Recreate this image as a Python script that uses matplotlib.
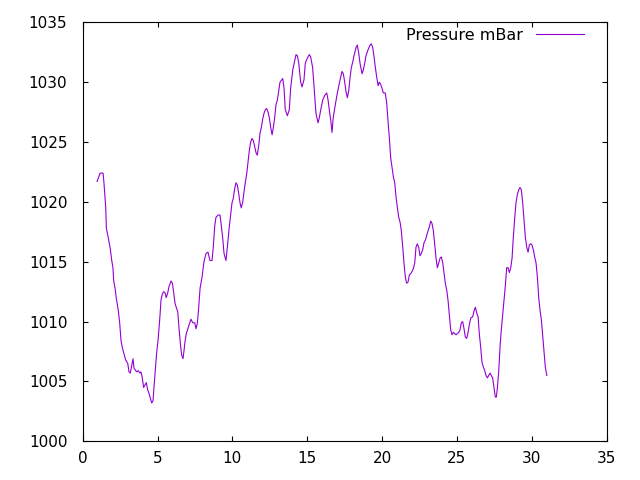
import matplotlib
matplotlib.use("Agg")
import matplotlib.pyplot as plt

day = [0.96, 1.16, 1.36, 1.42, 1.54, 1.58, 1.71, 1.84, 1.94, 2.02, 2.07, 2.16, 2.24, 2.38, 2.47, 2.56, 2.65, 2.74, 2.87, 3.01,
       3.09, 3.18, 3.27, 3.36, 3.43, 3.54, 3.63, 3.71, 3.83, 3.89, 3.98, 4.07, 4.16, 4.25, 4.34, 4.43, 4.52, 4.61, 4.70, 4.76,
       4.85, 4.94, 5.03, 5.14, 5.23, 5.32, 5.41, 5.50, 5.58, 5.68, 5.76, 5.90, 5.99, 6.08, 6.17, 6.25, 6.35, 6.43, 6.52, 6.61,
       6.70, 6.77, 6.83, 6.92, 7.05, 7.15, 7.23, 7.35, 7.48, 7.57, 7.66, 7.75, 7.84, 7.97, 8.10, 8.24, 8.37, 8.50, 8.64, 8.72,
       8.82, 8.90, 9.04, 9.17, 9.26, 9.35, 9.44, 9.57, 9.66, 9.79, 9.89, 9.97, 10.06, 10.15, 10.24, 10.33, 10.42, 10.51, 10.59, 10.69,
       10.77, 10.86, 10.96, 11.04, 11.13, 11.22, 11.31, 11.40, 11.49, 11.58, 11.66, 11.76, 11.84, 11.93, 12.02, 12.11, 12.20, 12.29, 12.38, 12.47,
       12.56, 12.65, 12.73, 12.83, 12.91, 13.00, 13.18, 13.36, 13.45, 13.53, 13.67, 13.80, 13.89, 14.03, 14.16, 14.25, 14.34, 14.43, 14.56, 14.65,
       14.78, 14.87, 15.00, 15.14, 15.23, 15.36, 15.50, 15.58, 15.72, 15.80, 15.90, 16.03, 16.17, 16.30, 16.39, 16.47, 16.57, 16.65, 16.74, 16.87,
       17.01, 17.14, 17.23, 17.32, 17.41, 17.50, 17.59, 17.68, 17.77, 17.86, 17.94, 18.04, 18.12, 18.26, 18.34, 18.44, 18.52, 18.66, 18.74, 18.84,
       18.92, 19.06, 19.19, 19.28, 19.37, 19.46, 19.55, 19.64, 19.73, 19.81, 19.91, 19.99, 20.08, 20.21, 20.31, 20.39, 20.48, 20.57, 20.66, 20.75,
       20.84, 20.93, 21.02, 21.11, 21.20, 21.28, 21.38, 21.46, 21.55, 21.64, 21.73, 21.82, 21.91, 22.00, 22.08, 22.18, 22.26, 22.35, 22.44, 22.53,
       22.62, 22.71, 22.80, 22.89, 22.98, 23.07, 23.15, 23.25, 23.33, 23.42, 23.51, 23.60, 23.69, 23.78, 23.87, 23.96, 24.05, 24.14, 24.22, 24.32,
       24.40, 24.49, 24.58, 24.67, 24.76, 24.94, 25.12, 25.20, 25.29, 25.38, 25.47, 25.56, 25.65, 25.74, 25.82, 25.92, 26.05, 26.14, 26.23, 26.32,
       26.41, 26.49, 26.58, 26.67, 26.76, 26.85, 26.94, 27.03, 27.12, 27.21, 27.29, 27.38, 27.47, 27.56, 27.63, 27.70, 27.79, 27.88, 27.96, 28.06,
       28.14, 28.23, 28.32, 28.41, 28.50, 28.59, 28.68, 28.76, 28.86, 28.94, 29.03, 29.12, 29.21, 29.30, 29.39, 29.48, 29.57, 29.66, 29.75, 29.83,
       29.93, 30.01, 30.10, 30.19, 30.28, 30.37, 30.46, 30.55, 30.64, 30.73, 30.82, 30.90, 31.00]

pressure = [1021.7, 1022.4, 1022.4, 1021.6, 1019.5, 1017.8, 1017.0, 1016.1, 1015.1, 1014.5, 1013.4, 1012.8, 1012.0, 1010.9, 1009.9, 1008.4, 1007.8, 1007.4, 1006.8, 1006.5,
            1005.8, 1005.7, 1006.3, 1006.9, 1006.1, 1005.9, 1005.8, 1005.9, 1005.7, 1005.8, 1005.3, 1004.5, 1004.7, 1004.9, 1004.3, 1004.0, 1003.6, 1003.2, 1003.4, 1004.5,
            1005.9, 1007.4, 1008.4, 1010.1, 1011.8, 1012.3, 1012.5, 1012.4, 1012.0, 1012.4, 1012.9, 1013.4, 1013.2, 1012.4, 1011.5, 1011.2, 1010.8, 1009.5, 1008.2, 1007.2,
            1006.9, 1007.6, 1008.3, 1009.0, 1009.5, 1009.9, 1010.2, 1009.9, 1009.9, 1009.4, 1009.9, 1011.2, 1012.8, 1013.7, 1015.0, 1015.7, 1015.8, 1015.1, 1015.1, 1016.2,
            1018.0, 1018.7, 1018.9, 1018.9, 1018.0, 1017.0, 1015.7, 1015.1, 1016.2, 1017.9, 1019.0, 1019.9, 1020.3, 1021.1, 1021.6, 1021.4, 1020.7, 1019.9, 1019.5, 1020.0,
            1020.8, 1021.6, 1022.4, 1023.3, 1024.3, 1025.0, 1025.3, 1025.1, 1024.6, 1024.1, 1023.9, 1024.7, 1025.7, 1026.2, 1026.9, 1027.4, 1027.7, 1027.8, 1027.5, 1027.0,
            1026.2, 1025.6, 1026.2, 1027.1, 1028.1, 1028.5, 1030.0, 1030.3, 1029.5, 1027.7, 1027.2, 1027.7, 1029.5, 1031.0, 1031.8, 1032.3, 1032.2, 1031.6, 1030.0, 1029.6,
            1030.2, 1031.6, 1032.0, 1032.3, 1032.1, 1031.2, 1028.7, 1027.4, 1026.6, 1027.0, 1027.7, 1028.5, 1028.9, 1029.1, 1028.5, 1027.7, 1026.8, 1025.8, 1027.1, 1028.1,
            1029.1, 1029.9, 1030.4, 1030.9, 1030.7, 1030.0, 1029.2, 1028.7, 1029.3, 1030.4, 1031.2, 1031.7, 1032.2, 1032.9, 1033.1, 1032.4, 1031.6, 1030.7, 1031.0, 1031.6,
            1032.2, 1032.7, 1033.1, 1033.2, 1032.9, 1032.1, 1031.2, 1030.4, 1029.7, 1030.0, 1029.8, 1029.5, 1029.1, 1029.1, 1028.2, 1026.8, 1025.4, 1023.7, 1022.9, 1022.1,
            1021.6, 1020.4, 1019.5, 1018.7, 1018.3, 1017.6, 1016.2, 1014.9, 1013.7, 1013.2, 1013.3, 1013.9, 1014.0, 1014.2, 1014.4, 1014.9, 1016.2, 1016.5, 1016.2, 1015.5,
            1015.7, 1016.0, 1016.6, 1016.8, 1017.2, 1017.6, 1017.9, 1018.4, 1018.2, 1017.6, 1016.5, 1015.3, 1014.5, 1014.9, 1015.3, 1015.4, 1014.9, 1014.0, 1013.2, 1012.6,
            1011.8, 1010.5, 1009.3, 1008.9, 1009.1, 1008.9, 1009.1, 1009.3, 1009.9, 1010.0, 1009.4, 1008.7, 1008.6, 1009.1, 1009.7, 1010.3, 1010.4, 1010.9, 1011.2, 1010.7,
            1010.4, 1009.0, 1007.9, 1006.6, 1006.2, 1005.9, 1005.5, 1005.3, 1005.5, 1005.7, 1005.5, 1005.3, 1004.5, 1003.7, 1003.7, 1004.5, 1005.9, 1008.0, 1009.3, 1010.7,
            1011.8, 1013.0, 1014.5, 1014.5, 1014.1, 1014.5, 1015.3, 1017.0, 1018.7, 1019.9, 1020.6, 1021.0, 1021.2, 1021.0, 1019.9, 1018.5, 1017.0, 1016.2, 1015.8, 1016.4,
            1016.5, 1016.4, 1016.0, 1015.4, 1014.9, 1013.7, 1012.0, 1010.9, 1010.1, 1008.7, 1007.4, 1006.2, 1005.5]

series_label = "Pressure mBar"
x_ticks = [0, 5, 10, 15, 20, 25, 30, 35]
y_ticks = [1000, 1005, 1010, 1015, 1020, 1025, 1030, 1035]

plt.rcParams['font.family'] = ['DejaVu Sans']
plt.rcParams['font.size'] = 11

fig = plt.figure(figsize=(6.4, 4.8), dpi=100)
ax = fig.add_axes([82.7 / 640, 1 - 441.3 / 480, 524 / 640, 419 / 480])

ax.plot(day, pressure, color='#9400D3', linewidth=0.8, label=series_label)

ax.set_xlim(0, 35)
ax.set_ylim(1000, 1035)
ax.set_xticks(x_ticks)
ax.set_yticks(y_ticks)
ax.tick_params(direction='in', length=3.3, width=0.8, top=True, right=True, colors='black')
ax.tick_params(axis='x', pad=7)
ax.tick_params(axis='y', pad=11)
for s in ax.spines.values():
    s.set_linewidth(0.8)

ax.legend(loc='center right', bbox_to_anchor=((584 - 82.7) / 524, 1 - (35 - 22.3) / 419),
          frameon=False, markerfirst=False, borderpad=0, borderaxespad=0,
          handlelength=3.0, handletextpad=0.8, prop={'size': 11.5})

fig.savefig("out.png", dpi=100)
